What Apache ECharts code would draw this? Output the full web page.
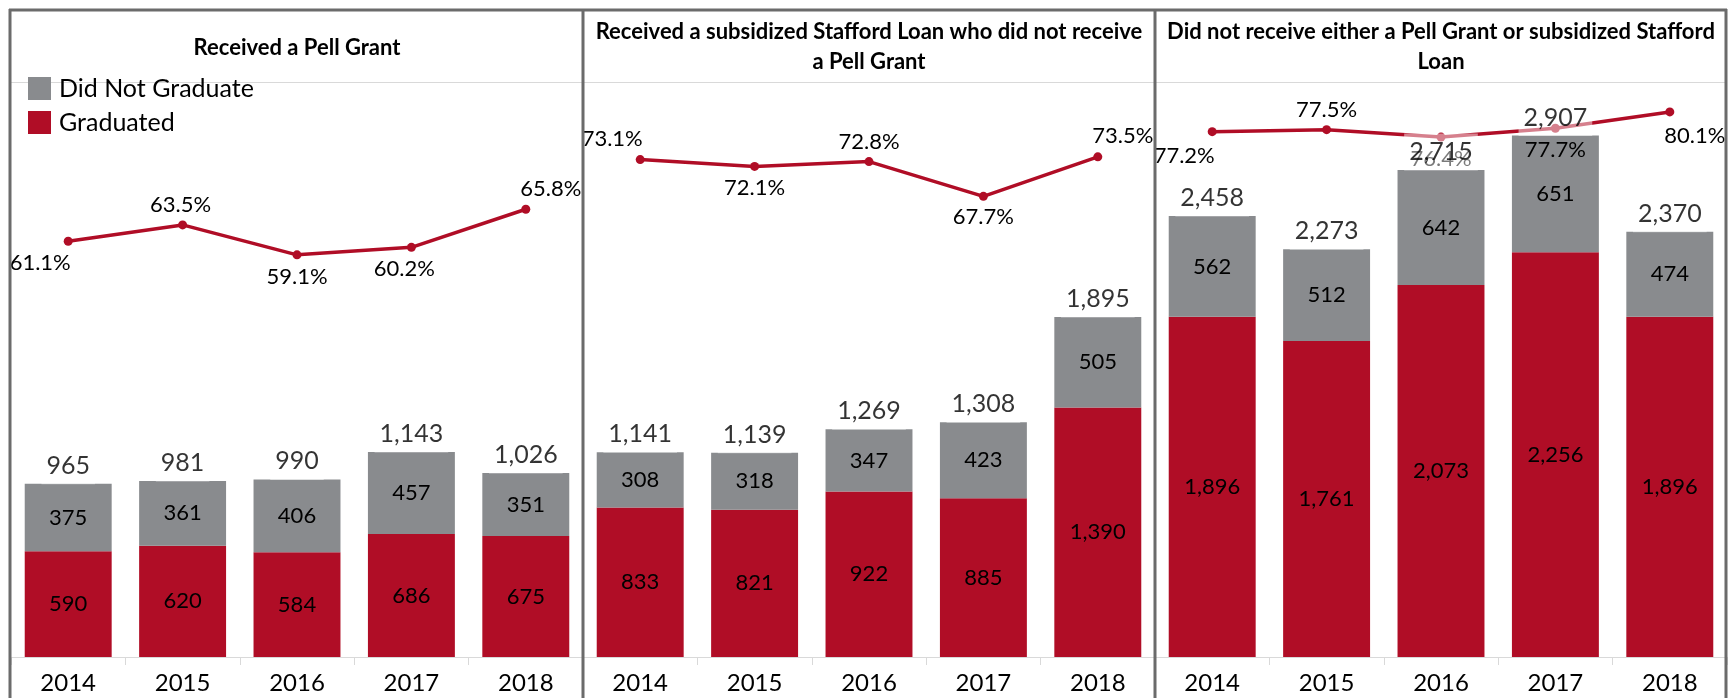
<!DOCTYPE html>
<html><head><meta charset="utf-8">
<script src="https://cdn.jsdelivr.net/npm/echarts@6/dist/echarts.min.js"></script>
<style>html,body{margin:0;padding:0;background:#fff}#c{width:1734px;height:698px}</style>
</head><body><div id="c"></div>
<script>
// ---- data ----
const years = ['2014', '2015', '2016', '2017', '2018'];
const panelTitles = [
  'Received a Pell Grant',
  'Received a subsidized Stafford Loan who did not receive\na Pell Grant',
  'Did not receive either a Pell Grant or subsidized Stafford\nLoan'
];
const legendNames = ['Did Not Graduate', 'Graduated'];

const pellGraduated = [590, 620, 584, 686, 675];
const pellNotGraduated = [375, 361, 406, 457, 351];
const pellTotal = [965, 981, 990, 1143, 1026];
const pellRate = [61.1, 63.5, 59.1, 60.2, 65.8];

const staffordGraduated = [833, 821, 922, 885, 1390];
const staffordNotGraduated = [308, 318, 347, 423, 505];
const staffordTotal = [1141, 1139, 1269, 1308, 1895];
const staffordRate = [73.1, 72.1, 72.8, 67.7, 73.5];

const neitherGraduated = [1896, 1761, 2073, 2256, 1896];
const neitherNotGraduated = [562, 512, 642, 651, 474];
const neitherTotal = [2458, 2273, 2715, 2907, 2370];
const neitherRate = [77.2, 77.5, 76.4, 77.7, 80.1];

// ---- style config (not data) ----
const rateLabelOffsets = [
  [[-28, 22], [-2, -20], [0, 22], [-7, 22], [25, -20]],
  [[-28, -21], [0, 22], [0, -20], [0, 21], [25, -21]],
  [[-28, 24], [0, -20], [0, 22], [0, 22], [25, 24]]
];
const RED = '#b00d26', GRAY = '#898b8e', FONT = 'Lato';
const panelLeft = [11, 583, 1155], panelWidth = 572;
const gridTop = 82, gridHeight = 575;
const countMax = 3205, rateMax = 84.5;

const panels = [
  {g: pellGraduated, n: pellNotGraduated, t: pellTotal, r: pellRate},
  {g: staffordGraduated, n: staffordNotGraduated, t: staffordTotal, r: staffordRate},
  {g: neitherGraduated, n: neitherNotGraduated, t: neitherTotal, r: neitherRate}
];
const fmt = v => Number(v).toLocaleString('en-US');

const grid = [], xAxis = [], yAxis = [], series = [], title = [];
panels.forEach((p, i) => {
  grid.push({left: panelLeft[i], width: panelWidth, top: gridTop, height: gridHeight});
  xAxis.push({
    type: 'category', gridIndex: i, data: years,
    axisLine: {lineStyle: {color: '#d9d9d9', width: 1}},
    axisTick: {show: true, length: 8, lineStyle: {color: '#d9d9d9'}},
    axisLabel: {fontSize: 24, color: '#000', fontFamily: FONT, margin: 14}
  });
  yAxis.push({
    type: 'value', gridIndex: i, min: 0, max: countMax, interval: countMax,
    axisLine: {show: false}, axisTick: {show: false}, axisLabel: {show: false},
    splitLine: {show: true, lineStyle: {color: '#d9d9d9', width: 1}}
  });
  title.push({
    text: panelTitles[i], left: panelLeft[i] + panelWidth / 2, textAlign: 'center',
    top: panelTitles[i].includes('\n') ? 17 : 33, padding: 0,
    textStyle: {fontFamily: FONT, fontWeight: 'bold', fontSize: 22, lineHeight: 30, color: '#000'}
  });
  const segLabel = {show: true, position: 'inside', fontSize: 22, color: '#000', fontFamily: FONT, formatter: o => fmt(o.value)};
  series.push({
    name: 'Graduated', type: 'bar', stack: 's' + i, xAxisIndex: i, yAxisIndex: i,
    data: p.g, barWidth: '76%', itemStyle: {color: RED}, label: segLabel, z: 2
  });
  series.push({
    name: 'Did Not Graduate', type: 'bar', stack: 's' + i, xAxisIndex: i, yAxisIndex: i,
    data: p.n, barWidth: '76%', itemStyle: {color: GRAY}, label: segLabel, z: 2
  });
  series.push({
    name: 'Graduation Rate', type: 'line', xAxisIndex: i, yAxisIndex: 3 + i, z: 5,
    data: p.r.map((v, k) => ({value: v, label: {offset: rateLabelOffsets[i][k]}})),
    symbol: 'circle', symbolSize: 9, itemStyle: {color: RED},
    lineStyle: {color: RED, width: 3.5},
    label: {show: true, position: 'inside', fontSize: 22, color: '#000', fontFamily: FONT,
      formatter: o => Number(o.value).toFixed(1) + '%'}
  });
  series.push({
    name: 'Total', type: 'scatter', xAxisIndex: i, yAxisIndex: i, z: 10,
    data: p.t, symbolSize: 1, itemStyle: {color: 'rgba(0,0,0,0)'},
    label: {show: true, position: 'inside', offset: [0, -18], fontSize: 25, color: '#000', fontFamily: FONT,
      backgroundColor: 'rgba(255,255,255,0.6)', padding: [6, 5, 6, 5], formatter: o => fmt(o.value)}
  });
});
panels.forEach((p, i) => {
  yAxis.push({type: 'value', gridIndex: i, min: 0, max: rateMax, show: false, splitLine: {show: false}});
});

const frame = (x1, y1, x2, y2, w, c) => ({type: 'line', z: 100, silent: true,
  shape: {x1, y1, x2, y2}, style: {stroke: c, lineWidth: w}});

const option = {
  animation: false,
  backgroundColor: '#fff',
  title, grid, xAxis, yAxis, series,
  legend: {
    data: legendNames, orient: 'vertical', left: 23, top: 71,
    itemWidth: 23, itemHeight: 23, itemGap: 9, icon: 'rect',
    textStyle: {fontSize: 25, lineHeight: 23, color: '#000', fontFamily: FONT, padding: [0, 0, 0, 3]}
  },
  graphic: [
    frame(9, 10, 1727, 10, 3, '#6b6b6b'),
    frame(10, 9, 10, 698, 3, '#6b6b6b'),
    frame(1726, 9, 1726, 698, 3, '#6b6b6b'),
    frame(583, 10, 583, 698, 3, '#6b6b6b'),
    frame(1155, 10, 1155, 698, 3, '#6b6b6b')
  ]
};
const chart = echarts.init(document.getElementById('c'), null, {renderer: 'canvas'});
chart.setOption(option);
</script></body></html>
